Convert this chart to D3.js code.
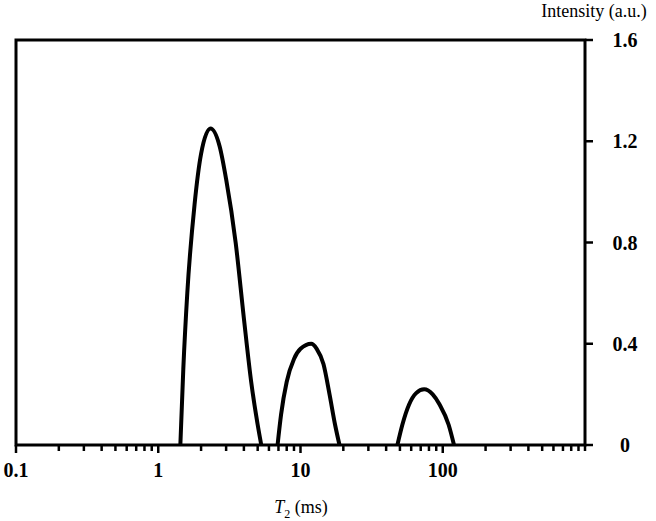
<!DOCTYPE html>
<html><head><meta charset="utf-8">
<script src="https://cdn.jsdelivr.net/npm/d3@7"></script>
<style>body{margin:0;background:#fff}</style>
</head><body>
<script>
// T2 (ms) and intensity for the three peaks
const peak1T = [1.43, 1.5, 1.6, 1.8, 2.0, 2.33, 2.7, 3.0, 3.5, 4.0, 4.5, 5.0, 5.3];
const peak1I = [0, 0.3, 0.6, 0.95, 1.15, 1.25, 1.18, 1.05, 0.8, 0.5, 0.25, 0.08, 0];
const peak2T = [6.9, 7.3, 8, 9, 10, 11.9, 13, 14.5, 16, 17.5, 18.8];
const peak2I = [0, 0.12, 0.25, 0.34, 0.38, 0.4, 0.38, 0.32, 0.2, 0.08, 0];
const peak3T = [48, 52, 58, 65, 74, 85, 95, 110, 120];
const peak3I = [0, 0.08, 0.16, 0.205, 0.22, 0.2, 0.16, 0.08, 0];
const xTicks = [0.1, 1, 10, 100];
const yTicks = [0, 0.4, 0.8, 1.2, 1.6];

const W = 656, H = 521;
const pLeft = 16, pRight = 585, pTop = 40, pBottom = 445;
const svg = d3.select("body").append("svg").attr("width", W).attr("height", H)
  .style("font-family", "'Liberation Serif', 'DejaVu Serif', serif");

const x = d3.scaleLog().domain([0.1, 1000]).range([pLeft, pRight]);
const y = d3.scaleLinear().domain([0, 1.6]).range([pBottom, pTop]);

// frame
svg.append("rect").attr("x", pLeft).attr("y", pTop).attr("width", pRight - pLeft).attr("height", pBottom - pTop)
  .attr("fill", "none").attr("stroke", "#000").attr("stroke-width", 3);

// x axis minor + major ticks
const minor = [];
for (let d = 0.1; d < 1000; d *= 10) for (let k = 1; k < 10; k++) minor.push(+(d * k).toPrecision(3));
minor.push(1000);
svg.selectAll(".xt").data(minor).enter().append("line")
  .attr("x1", d => x(d)).attr("x2", d => x(d))
  .attr("y1", pBottom).attr("y2", d => xTicks.includes(d) ? pBottom + 8 : pBottom + 6)
  .attr("stroke", "#000").attr("stroke-width", 2.5);
svg.selectAll(".xl").data(xTicks).enter().append("text")
  .attr("x", d => x(d)).attr("y", pBottom + 32).attr("text-anchor", "middle")
  .attr("font-size", 20).attr("font-weight", "bold").text(d => d);

// y axis on right
svg.selectAll(".yt").data(yTicks).enter().append("line")
  .attr("x1", pRight).attr("x2", pRight + 8).attr("y1", d => y(d)).attr("y2", d => y(d))
  .attr("stroke", "#000").attr("stroke-width", 2.5);
svg.selectAll(".yl").data(yTicks).enter().append("text")
  .attr("x", 625).attr("y", d => y(d) + 7).attr("text-anchor", "middle")
  .attr("font-size", 20).attr("font-weight", "bold").text(d => d === 0 ? "0" : d.toFixed(1));

svg.append("text").attr("x", 594).attr("y", 17).attr("text-anchor", "middle")
  .attr("font-size", 18).text("Intensity (a.u.)");
const xt = svg.append("text").attr("x", 301).attr("y", 513).attr("text-anchor", "middle").attr("font-size", 18);
xt.append("tspan").attr("font-style", "italic").text("T");
xt.append("tspan").attr("font-size", 12).attr("dy", 5).text("2");
xt.append("tspan").attr("dy", -5).text(" (ms)");

// peaks
const line = d3.line().x(d => x(d[0])).y(d => y(d[1])).curve(d3.curveMonotoneX);
[[peak1T, peak1I], [peak2T, peak2I], [peak3T, peak3I]].forEach(([t, v]) => {
  svg.append("path").datum(d3.zip(t, v)).attr("d", line)
    .attr("fill", "none").attr("stroke", "#000").attr("stroke-width", 4);
});
</script>
</body></html>
